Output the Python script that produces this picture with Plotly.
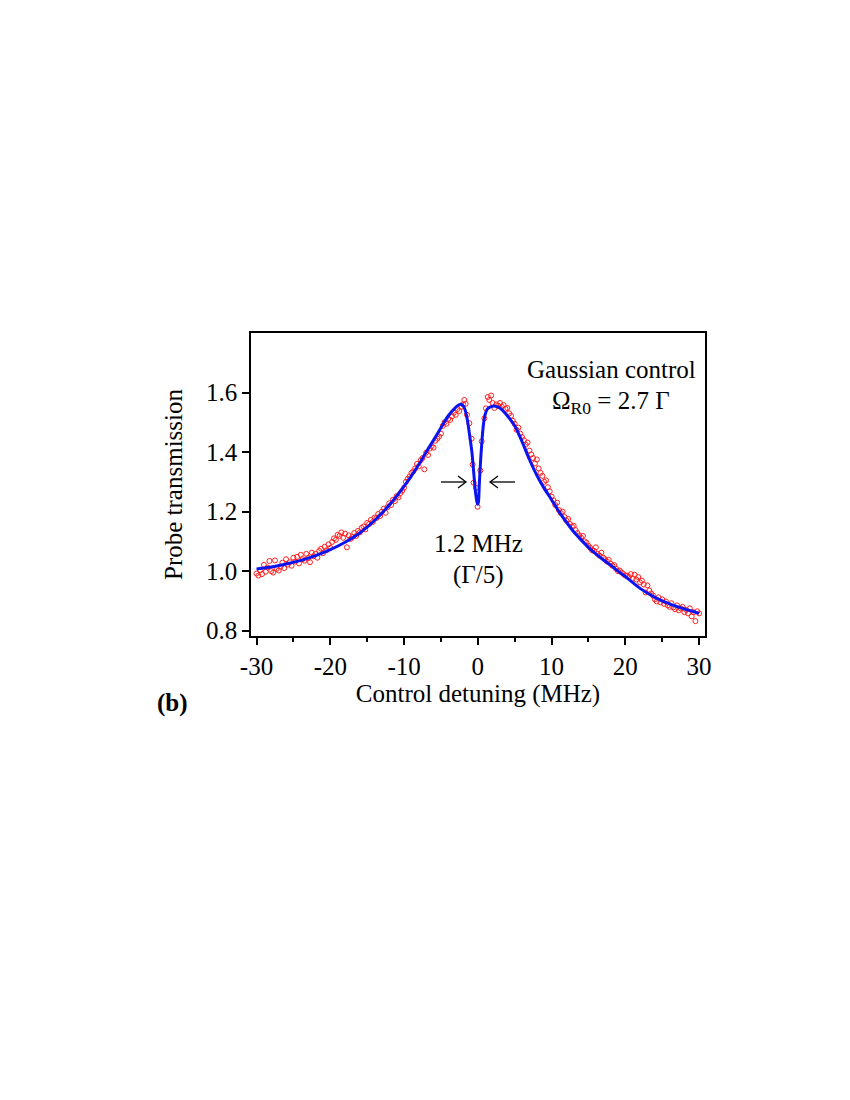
import plotly.graph_objects as go

# measured probe transmission (red open circles)
data_x = [
    -30.0, -29.75, -29.5, -29.25, -29.0, -28.75, -28.5, -28.25, -28.0, -27.75, -27.5,
    -27.25, -27.0, -26.75, -26.5, -26.25, -26.0, -25.75, -25.5, -25.25, -25.0,
    -24.75, -24.5, -24.25, -24.0, -23.75, -23.5, -23.25, -23.0, -22.75, -22.5,
    -22.25, -22.0, -21.75, -21.5, -21.25, -21.0, -20.75, -20.5, -20.25, -20.0,
    -19.75, -19.5, -19.25, -19.0, -18.75, -18.5, -18.25, -18.0, -17.75, -17.5,
    -17.25, -17.0, -16.75, -16.5, -16.25, -16.0, -15.75, -15.5, -15.25, -15.0,
    -14.75, -14.5, -14.25, -14.0, -13.75, -13.5, -13.25, -13.0, -12.75, -12.5,
    -12.25, -12.0, -11.75, -11.5, -11.25, -11.0, -10.75, -10.5, -10.25, -10.0,
    -9.75, -9.5, -9.25, -9.0, -8.75, -8.5, -8.25, -8.0, -7.75, -7.5,
    -7.25, -7.0, -6.75, -6.5, -6.25, -6.0, -5.75, -5.5, -5.25, -5.0,
    -4.75, -4.5, -4.25, -4.0, -3.75, -3.5, -3.25, -3.0, -2.75, -2.5, -2.25, -2.0,
    -1.83, -1.65, -1.47, -1.15, -0.84, -0.7, -0.57, -0.24, -0.03, 0.34, 0.52,
    0.88, 1.1, 1.35, 1.55, 1.8, 2.0,
    2.25, 2.5, 2.75, 3.0, 3.25, 3.5, 3.75, 4.0, 4.25, 4.5, 4.75, 5.0,
    5.25, 5.5, 5.75, 6.0, 6.25, 6.5, 6.75, 7.0, 7.25, 7.5,
    7.75, 8.0, 8.25, 8.5, 8.75, 9.0, 9.25, 9.5, 9.75, 10.0,
    10.25, 10.5, 10.75, 11.0, 11.25, 11.5, 11.75, 12.0, 12.25, 12.5,
    12.75, 13.0, 13.25, 13.5, 13.75, 14.0, 14.25, 14.5, 14.75, 15.0,
    15.25, 15.5, 15.75, 16.0, 16.25, 16.5, 16.75, 17.0, 17.25, 17.5,
    17.75, 18.0, 18.25, 18.5, 18.75, 19.0, 19.25, 19.5, 19.75, 20.0,
    20.25, 20.5, 20.75, 21.0, 21.25, 21.5, 21.75, 22.0, 22.25, 22.5,
    22.75, 23.0, 23.25, 23.5, 23.75, 24.0, 24.25, 24.5, 24.75, 25.0,
    25.25, 25.5, 25.75, 26.0, 26.25, 26.5, 26.75, 27.0, 27.25, 27.5,
    27.75, 28.0, 28.25, 28.5, 28.75, 29.0, 29.25, 29.5, 29.75, 30.0,
]
data_y = [
    0.992, 0.985, 1.003, 0.990, 1.021, 0.998, 1.012, 1.034, 1.000, 0.995, 1.036,
    1.008, 1.002, 1.015, 1.028, 1.010, 1.040, 1.022, 1.030, 1.018, 1.045,
    1.032, 1.048, 1.026, 1.055, 1.040, 1.035, 1.058, 1.044, 1.030, 1.062,
    1.050, 1.058, 1.045, 1.068, 1.075, 1.060, 1.082, 1.070, 1.090, 1.078,
    1.098, 1.110, 1.105, 1.122, 1.118, 1.130, 1.112, 1.126, 1.080, 1.120,
    1.108, 1.115, 1.128, 1.118, 1.135, 1.130, 1.145, 1.150, 1.140, 1.162,
    1.158, 1.172, 1.165, 1.180, 1.178, 1.192, 1.185, 1.200, 1.210, 1.196,
    1.215, 1.228, 1.222, 1.240, 1.235, 1.252, 1.248, 1.262, 1.270, 1.280,
    1.300, 1.310, 1.318, 1.330, 1.335, 1.345, 1.360, 1.352, 1.372, 1.380,
    1.342, 1.398, 1.390, 1.412, 1.420, 1.415, 1.438, 1.445, 1.452, 1.462,
    1.488, 1.500, 1.495, 1.512, 1.508, 1.520, 1.532, 1.525, 1.545, 1.538, 1.552, 1.560,
    1.575, 1.562, 1.525, 1.497, 1.445, 1.358, 1.297, 1.280, 1.216, 1.338, 1.436,
    1.513, 1.547, 1.585, 1.575, 1.590, 1.565,
    1.548, 1.560, 1.556, 1.565, 1.552, 1.558, 1.545, 1.548, 1.530, 1.522, 1.505, 1.495,
    1.475, 1.482, 1.462, 1.450, 1.440, 1.425, 1.432, 1.405, 1.392, 1.380,
    1.362, 1.375, 1.345, 1.330, 1.320, 1.300, 1.305, 1.282, 1.268, 1.250,
    1.238, 1.222, 1.230, 1.205, 1.195, 1.200, 1.182, 1.170, 1.175, 1.158,
    1.150, 1.152, 1.138, 1.128, 1.120, 1.112, 1.118, 1.100, 1.095, 1.085,
    1.078, 1.070, 1.068, 1.080, 1.058, 1.052, 1.062, 1.045, 1.040, 1.032,
    1.038, 1.025, 1.018, 1.020, 1.008, 1.000, 1.002, 0.995, 0.990, 0.985,
    0.985, 0.980, 0.990, 0.975, 0.988, 0.972, 0.980, 0.962, 0.968, 0.955,
    0.928, 0.952, 0.935, 0.925, 0.918, 0.905, 0.898, 0.912, 0.895, 0.905,
    0.890, 0.898, 0.885, 0.880, 0.892, 0.878, 0.872, 0.885, 0.868, 0.875,
    0.880, 0.862, 0.870, 0.858, 0.875, 0.848, 0.862, 0.832, 0.865, 0.858,
]

# theory curve (blue)
fit_x = [-30, -28, -26, -24, -22, -20, -18, -16, -14, -12, -10, -9, -8, -7, -6, -5,
         -4, -3, -2.6, -2.3, -2.0, -1.7, -1.4, -1.1, -0.8, -0.5, -0.3, -0.1, 0.0,
         0.1, 0.2, 0.4, 0.6, 0.8, 1.0, 1.3, 1.8, 2.2, 3, 4, 5, 6, 7, 8, 9, 10,
         11, 12, 13, 14, 15, 16, 17, 18, 19, 20, 22, 24, 26, 28, 30]
fit_y = [1.007, 1.014, 1.024, 1.036, 1.052, 1.072, 1.097, 1.128, 1.170, 1.222, 1.285,
         1.320, 1.358, 1.400, 1.440, 1.482, 1.522, 1.550, 1.558, 1.561, 1.556, 1.540,
         1.505, 1.455, 1.400, 1.315, 1.262, 1.230, 1.225, 1.235, 1.290, 1.380, 1.450,
         1.500, 1.527, 1.545, 1.553, 1.555, 1.548, 1.522, 1.488, 1.435, 1.375, 1.322,
         1.278, 1.240, 1.200, 1.165, 1.132, 1.105, 1.080, 1.058, 1.038, 1.020, 1.000,
         0.982, 0.942, 0.912, 0.890, 0.873, 0.858]

x_ticks = [-30, -20, -10, 0, 10, 20, 30]
x_tick_text = ['-30', '-20', '-10', '0', '10', '20', '30']
y_ticks = [0.8, 1.0, 1.2, 1.4, 1.6]

FONT = "Liberation Serif"
FS = 25

fig = go.Figure()
fig.add_trace(go.Scatter(
    x=data_x, y=data_y, mode='markers',
    marker=dict(symbol='circle-open', size=5, color='#ff2020', line=dict(width=1)),
))
fig.add_trace(go.Scatter(
    x=fit_x, y=fit_y, mode='lines',
    line=dict(color='#0a14f0', width=3, shape='spline', smoothing=0.6),
))

axis_common = dict(
    showline=True, linecolor='black', linewidth=1.5, mirror=True,
    ticks='outside', ticklen=7, tickwidth=1.5, tickcolor='black',
    showgrid=False, zeroline=False,
    tickfont=dict(family=FONT, size=FS, color='black'),
)

fig.update_xaxes(
    range=[-30.75, 30.8], tickvals=x_ticks, ticktext=x_tick_text,
    minor=dict(tickvals=[-25, -15, -5, 5, 15, 25], ticklen=4, tickwidth=1.5,
               ticks='outside', tickcolor='black'),
    title=dict(text='Control detuning (MHz)', font=dict(family=FONT, size=FS, color='black'),
               standoff=4),
    **axis_common,
)
fig.update_yaxes(
    range=[0.782, 1.8], tickvals=y_ticks, tickformat='.1f',
    title=dict(text='Probe transmission', font=dict(family=FONT, size=FS, color='black'),
               standoff=16),
    **axis_common,
)

txt = dict(family=FONT, size=FS, color='black')


def px(p):
    return (p - 251) / 454


def py(p):
    return (636 - p) / 303


annos = [
    (px(611), py(369), 'Gaussian control'),
    (px(611), py(402), 'Ω<sub>R0</sub> = 2.7 Γ'),
    (px(478), py(543), '1.2 MHz'),
    (px(478), py(575), '(Γ/5)'),
]
for ax_, ay_, t in annos:
    fig.add_annotation(x=ax_, y=ay_, text=t, xref='paper', yref='paper',
                       showarrow=False, font=txt, xanchor='center', yanchor='middle')
fig.add_annotation(x=px(155), y=py(703), xref='paper', yref='paper', text='<b>(b)</b>',
                   showarrow=False, font=txt, xanchor='left', yanchor='middle')

# the two small arrows marking the dip width
arrow_line = dict(color='black', width=1.3)
ya = py(482)
for tail, head in [(441, 466), (515, 490)]:
    d = 1 if head > tail else -1
    fig.add_shape(type='line', xref='paper', yref='paper',
                  x0=px(tail), x1=px(head), y0=ya, y1=ya, line=arrow_line)
    fig.add_shape(type='path', xref='paper', yref='paper', line=arrow_line,
                  path=f'M {px(head - d * 8)} {py(476)} L {px(head)} {ya} L {px(head - d * 8)} {py(488)}')

fig.update_layout(
    width=850, height=1100, autosize=False,
    plot_bgcolor='white', paper_bgcolor='white',
    showlegend=False,
    margin=dict(l=243, r=153, t=325, b=472),
)

fig.write_html("out.html")
